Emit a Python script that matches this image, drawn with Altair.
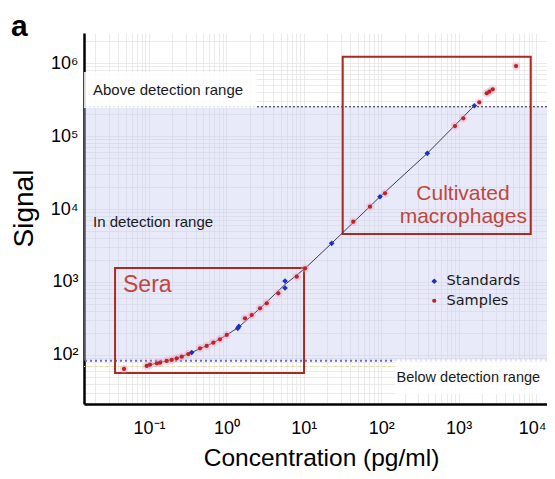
import altair as alt
import pandas as pd

# ---------------- data ----------------
std_conc = [0.356, 1.40, 1.45, 5.72, 5.72, 22.9, 96.4, 394, 1595]
std_signal = [108, 232, 246, 1032, 828, 3390, 14740, 57950, 260000]

smp_conc = [0.0475, 0.0933, 0.103, 0.126, 0.139, 0.169, 0.196, 0.228, 0.265,
            0.322, 0.456, 0.556, 0.678, 0.826, 1.01, 1.74, 2.12, 2.72, 3.32,
            4.69, 8.10, 10.4, 43.6, 71.6, 112, 898, 1150, 1850, 2307, 2494,
            2760, 5520]
smp_signal = [64.3, 70.7, 73.6, 76.9, 78.5, 82.8, 85.4, 90.1, 94.8, 103,
              123.5, 132.9, 147.4, 164, 188, 318, 353, 436, 511, 700, 1182,
              1540, 6700, 10760, 16400, 137000, 174700, 289500, 384600,
              404600, 436500, 910000]

curve_conc = [0.09, 0.1, 0.126, 0.169, 0.228, 0.322, 0.456, 0.678, 1.01,
              1.425, 2.72, 5.72, 10.4, 22.9, 96.4, 394, 1595]
curve_signal = [70, 73, 77, 83, 90, 103, 122, 147, 188, 239, 436, 925, 1540,
                3390, 14740, 57950, 260000]

upper_limit = 252000
lower_limit = 83.6
faint_line = 69.6

x_domain = [0.01445, 13870]
y_domain = [21.3, 2.58e6]

# annotation boxes (data coordinates)
box_names = ["Sera", "Cultivated macrophages"]
box_x1 = [0.0364, 31.8]
box_x2 = [10.07, 8550]
box_y1 = [56.7, 4545]
box_y2 = [1555, 1.22e6]

# white label backgrounds
lab_box_x1 = [x_domain[0], 150.7]
lab_box_x2 = [2.46, x_domain[1]]
lab_box_y1 = [2.42e5, 29.2]
lab_box_y2 = [7.53e5, 86.8]

region_text = ["Above detection range", "In detection range", "Below detection range"]
region_x = [0.0189, 0.0189, 158]
region_y = [3.65e5, 5660, 43]
region_size = [15, 15, 14.5]

x_tick_values = [0.1, 1, 10, 100, 1000, 10000]
x_tick_labels = ["10⁻¹", "10⁰", "10¹", "10²", "10³", "10⁴"]
y_tick_values = [100, 1000, 10000, 100000, 1000000]
y_tick_labels = ["10²", "10³", "10⁴", "10⁵", "10⁶"]

# ---------------- tables ----------------
pts = pd.DataFrame({
    "conc": std_conc + smp_conc,
    "signal": std_signal + smp_signal,
    "group": ["Standards"] * len(std_conc) + ["Samples"] * len(smp_conc),
})
smp = pd.DataFrame({"conc": smp_conc, "signal": smp_signal})
curve = pd.DataFrame({"conc": curve_conc, "signal": curve_signal})
boxes = pd.DataFrame({"name": box_names, "conc": box_x1, "x2": box_x2, "signal": box_y1, "y2": box_y2})
labboxes = pd.DataFrame({"conc": lab_box_x1, "x2": lab_box_x2, "signal": lab_box_y1, "y2": lab_box_y2})
band = pd.DataFrame({"conc": [x_domain[0]], "x2": [x_domain[1]], "signal": [lower_limit], "y2": [upper_limit]})
regions = pd.DataFrame({"text": region_text, "conc": region_x, "signal": region_y, "size": region_size})


def grid_values(lo, hi):
    vals = []
    d = 1e-3
    while d < hi * 10:
        for m in range(1, 10):
            v = float(f"{d * m:.6g}")
            if lo <= v <= hi:
                vals.append(v)
        d = float(f"{d * 10:.6g}")
    return vals


def label_expr(vals, labs):
    expr = "''"
    for v, l in reversed(list(zip(vals, labs))):
        expr = f"datum.value == {v} ? '{l}' : ({expr})"
    return expr


FONT = "Liberation Sans"
GRID = "#e3e3e3"

xscale = alt.Scale(type="log", domain=x_domain, nice=False)
yscale = alt.Scale(type="log", domain=y_domain, nice=False)

xaxis = alt.Axis(values=grid_values(*x_domain), labelExpr=label_expr(x_tick_values, x_tick_labels),
                 title="Concentration (pg/ml)", titleFont=FONT, titleFontSize=24.5,
                 titleFontWeight="normal", titleColor="black", titleX=237, titleY=61,
                 titleBaseline="alphabetic", titleAlign="center",
                 labelFont=FONT, labelFontSize=18, labelColor="black", labelPadding=29,
                 labelBaseline="alphabetic", labelOverlap=False, labelFlush=False,
                 labelOffset=alt.ExprRef(expr="datum.value == 10000 ? -4 : 0"),
                 ticks=False, domainColor="black", domainWidth=2.5,
                 grid=True, gridColor=GRID, gridWidth=0.7)
yaxis = alt.Axis(values=grid_values(*y_domain), labelExpr=label_expr(y_tick_values, y_tick_labels),
                 title="Signal", titleFont=FONT, titleFontSize=28, titleFontWeight="normal",
                 titleColor="black", titleAngle=270, titleX=-60, titleY=175,
                 titleAlign="center", titleBaseline="middle",
                 labelFont=FONT, labelFontSize=18, labelColor="black", labelPadding=6,
                 labelOverlap=False, labelFlush=False,
                 ticks=False, domainColor="black", domainWidth=2.5,
                 grid=True, gridColor=GRID, gridWidth=0.7)


def X(field="conc"):
    return alt.X(f"{field}:Q", scale=xscale, axis=xaxis, title="Concentration (pg/ml)")


def Y(field="signal"):
    return alt.Y(f"{field}:Q", scale=yscale, axis=yaxis, title="Signal")


band_layer = alt.Chart(band).mark_rect(color="#c6caf0", opacity=0.4).encode(
    x=X(), x2="x2:Q", y=Y(), y2="y2:Q")

limit_up = alt.Chart(pd.DataFrame({"signal": [upper_limit]})).mark_rule(
    color="#222233", strokeWidth=1.2, strokeDash=[2, 2]).encode(y=Y())
limit_low = alt.Chart(pd.DataFrame({"signal": [lower_limit]})).mark_rule(
    color="#6a6ad0", strokeWidth=2, strokeDash=[2, 3]).encode(y=Y())
limit_faint = alt.Chart(pd.DataFrame({"signal": [faint_line]})).mark_rule(
    color="#e6dca6", strokeWidth=1, strokeDash=[3, 3]).encode(y=Y())

labbox_layer = alt.Chart(labboxes).mark_rect(color="white", opacity=0.85).encode(
    x=X(), x2="x2:Q", y=Y(), y2="y2:Q")

box_layer = alt.Chart(boxes).mark_rect(fill=None, filled=False, stroke="#a82a22", strokeWidth=2).encode(
    x=X(), x2="x2:Q", y=Y(), y2="y2:Q")

curve_layer = alt.Chart(curve).mark_line(color="#3a3a5a", strokeWidth=1).encode(x=X(), y=Y())

halo_layer = alt.Chart(smp).mark_point(filled=True, color="#f0a0bc", opacity=0.4, size=70).encode(
    x=X(), y=Y())

point_layer = alt.Chart(pts).mark_point(filled=True, opacity=1).encode(
    x=X(), y=Y(),
    color=alt.Color("group:N", scale=alt.Scale(domain=["Standards", "Samples"], range=["#1f30c0", "#b8262a"]),
                    legend=alt.Legend(title=None, orient="none", legendX=343, legendY=241,
                                      labelFont="DejaVu Sans", labelFontSize=14.5, labelColor="#1a1a1a",
                                      symbolSize=55, rowPadding=4.5, labelOffset=5, padding=0,
                                      symbolStrokeWidth=0)),
    shape=alt.Shape("group:N", scale=alt.Scale(domain=["Standards", "Samples"], range=["diamond", "circle"]),
                    legend=None),
    size=alt.Size("group:N", scale=alt.Scale(domain=["Standards", "Samples"], range=[32, 18]), legend=None),
)

region_layer = alt.Chart(regions).mark_text(align="left", baseline="alphabetic", font=FONT,
                                            color="#1a1a1a").encode(
    x=X(), y=Y(), text="text:N", size=alt.Size("size:Q", scale=None, legend=None))

anno = pd.DataFrame({"text": ["Sera"], "conc": [0.0461], "signal": [729]})
anno_layer = alt.Chart(anno).mark_text(align="left", baseline="alphabetic", font=FONT,
                                       fontSize=23, color="#c0463e").encode(
    x=X(), y=Y(), text="text:N")
anno2 = pd.DataFrame({"text": ["Cultivated", "macrophages"], "conc": [1140, 1150], "signal": [13280, 6430]})
anno2_layer = alt.Chart(anno2).mark_text(align="center", baseline="alphabetic", font=FONT,
                                         fontSize=21, color="#c0463e").encode(
    x=X(), y=Y(), text="text:N")

panel = pd.DataFrame({"t": ["a"]})
panel_layer = alt.Chart(panel).mark_text(align="left", baseline="alphabetic", font=FONT,
                                         fontSize=30, fontWeight="bold", color="black").encode(
    x=alt.value(-73), y=alt.value(3), text="t:N")

chart = alt.layer(
    band_layer, limit_faint, limit_up, limit_low, labbox_layer, box_layer, curve_layer,
    halo_layer, point_layer, region_layer, anno_layer, anno2_layer, panel_layer
).properties(
    width=463, height=371,
    autosize=alt.AutoSizeParams(type="none"),
    padding={"left": 76, "top": 25, "right": 0, "bottom": 67},
    background="white",
).configure_view(stroke=None)

chart.save("out.html", embed_options={"renderer": "svg", "actions": False})
